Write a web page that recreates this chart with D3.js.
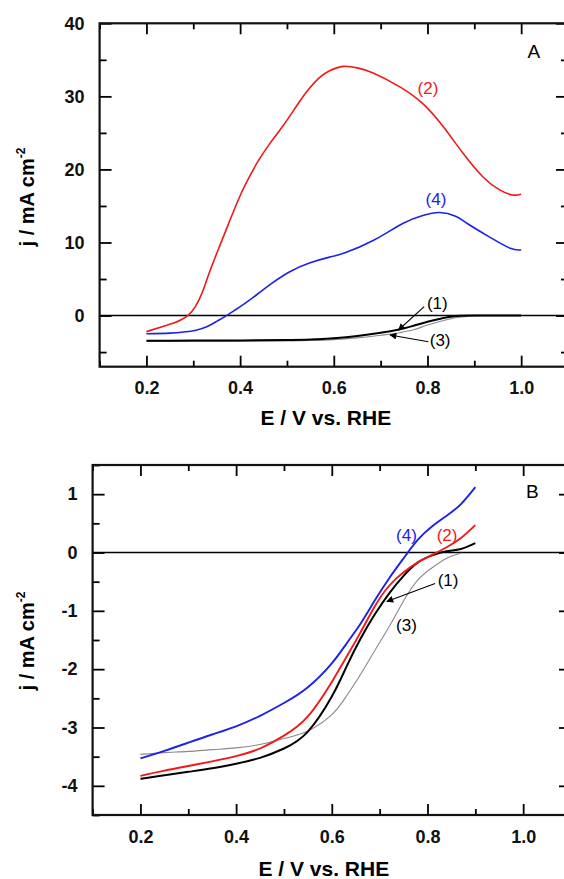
<!DOCTYPE html>
<html>
<head>
<meta charset="utf-8">
<script src="https://cdn.jsdelivr.net/npm/d3@7"></script>
<style>
  body { margin: 0; background: #fff; }
  svg { display: block; font-family: "Liberation Sans", Arial, sans-serif; }
</style>
</head>
<body>
<div id="chart"></div>
<script>
// ---- panel A: CV curves ----
const eA1 = [0.2, 0.3, 0.4, 0.5, 0.55, 0.6, 0.65, 0.7, 0.74, 0.77, 0.8, 0.83, 0.85, 0.87, 0.9, 0.95, 1.0];
const jA1 = [-3.45, -3.42, -3.4, -3.35, -3.28, -3.1, -2.8, -2.35, -1.9, -1.4, -0.85, -0.4, -0.16, -0.03, 0, 0, 0];
const eA2 = [0.2, 0.235, 0.26, 0.275, 0.29, 0.305, 0.32, 0.335, 0.355, 0.378, 0.4, 0.42, 0.44, 0.463, 0.485, 0.506, 0.527, 0.548, 0.57, 0.591, 0.62, 0.65, 0.684, 0.741, 0.79, 0.833, 0.876, 0.918, 0.954, 0.982, 1.0];
const jA2 = [-2.2, -1.5, -1.0, -0.55, 0.1, 1.3, 3.3, 6.0, 9.3, 13.0, 16.4, 19.0, 21.3, 23.5, 25.4, 27.3, 29.3, 31.1, 32.6, 33.5, 34.1, 33.9, 33.2, 31.3, 29.0, 25.9, 22.2, 19.0, 17.2, 16.5, 16.6];
const eA3 = [0.2, 0.3, 0.4, 0.5, 0.55, 0.6, 0.65, 0.7, 0.74, 0.77, 0.8, 0.83, 0.86, 0.89, 0.93, 1.0];
const jA3 = [-3.55, -3.55, -3.52, -3.48, -3.42, -3.3, -3.05, -2.7, -2.35, -1.95, -1.3, -0.75, -0.3, -0.08, 0, 0];
const eA4 = [0.2, 0.25, 0.28, 0.306, 0.33, 0.35, 0.371, 0.395, 0.42, 0.463, 0.506, 0.548, 0.591, 0.624, 0.685, 0.747, 0.79, 0.826, 0.86, 0.885, 0.931, 0.977, 1.0];
const jA4 = [-2.5, -2.4, -2.25, -2.0, -1.5, -0.8, 0.0, 1.0, 2.1, 4.2, 6.0, 7.2, 8.0, 8.6, 10.3, 12.6, 13.7, 14.1, 13.6, 12.6, 10.8, 9.2, 9.0];

// ---- panel B: LSV curves ----
const eB = [0.2, 0.25, 0.3, 0.35, 0.4, 0.45, 0.5, 0.55, 0.6, 0.63, 0.66, 0.69, 0.72, 0.75, 0.78, 0.81, 0.84, 0.87, 0.9];
const jB1 = [-3.88, -3.82, -3.76, -3.7, -3.62, -3.52, -3.36, -3.07, -2.47, -1.97, -1.48, -1.06, -0.7, -0.4, -0.17, -0.05, 0.02, 0.06, 0.16];
const jB2 = [-3.83, -3.74, -3.66, -3.58, -3.49, -3.36, -3.14, -2.81, -2.22, -1.8, -1.37, -0.92, -0.57, -0.34, -0.17, -0.04, 0.09, 0.25, 0.47];
const eB3 = [0.2, 0.25, 0.3, 0.35, 0.4, 0.45, 0.5, 0.55, 0.6, 0.63, 0.66, 0.69, 0.72, 0.75, 0.78, 0.81, 0.84, 0.87];
const jB3 = [-3.46, -3.43, -3.41, -3.38, -3.35, -3.29, -3.19, -3.06, -2.78, -2.47, -2.09, -1.68, -1.27, -0.83, -0.47, -0.26, -0.1, -0.01];
const jB4 = [-3.53, -3.4, -3.26, -3.12, -2.98, -2.8, -2.58, -2.31, -1.9, -1.57, -1.22, -0.82, -0.44, -0.1, 0.22, 0.45, 0.63, 0.83, 1.12];

// axis ticks
const xMajor = [0.2, 0.4, 0.6, 0.8, 1.0];
const xMinor = [0.1, 0.3, 0.5, 0.7, 0.9, 1.1];
const yMajorA = [0, 10, 20, 30, 40];
const yMinorA = [-5, 5, 15, 25, 35];
const yMajorB = [-4, -3, -2, -1, 0, 1];
const yMinorB = [-4.5, -3.5, -2.5, -1.5, -0.5, 0.5, 1.5];

const RED = "#f01818", BLUE = "#1c22e8", GREY = "#8a8a8a";

const svg = d3.select("#chart").append("svg")
  .attr("width", 564)
  .attr("height", 879);

const panels = [
  {
    left: 99.6, right: 568, top: 23.3, bottom: 366.7,
    yDomain: [-7, 40], yMajor: yMajorA, yMinor: yMinorA,
    titleY: 425, yTitleY: 197, letter: "A", letterAt: [1.027, 36.1],
    series: [
      { e: eA3, j: jA3, color: GREY, width: 1.1, flat: true },
      { e: eA1, j: jA1, color: "#000", width: 2, flat: true },
      { e: eA2, j: jA2, color: RED, width: 1.6 },
      { e: eA4, j: jA4, color: BLUE, width: 1.6 },
    ],
    labels: [
      { text: "(2)", at: [0.801, 31.1], color: RED },
      { text: "(4)", at: [0.818, 16], color: BLUE },
      { text: "(1)", at: [0.821, 1.68], color: "#000" },
      { text: "(3)", at: [0.827, -3.35], color: "#000" },
    ],
    arrows: [
      { from: [0.793, 1.21], to: [0.738, -1.98] },
      { from: [0.802, -3.58], to: [0.72, -2.66] },
    ],
  },
  {
    left: 92.6, right: 571, top: 465, bottom: 815,
    yDomain: [-4.5, 1.5], yMajor: yMajorB, yMinor: yMinorB,
    titleY: 876, yTitleY: 641, letter: "B", letterAt: [1.019, 1.04],
    series: [
      { e: eB3, j: jB3, color: GREY, width: 1.1 },
      { e: eB, j: jB1, color: "#000", width: 2 },
      { e: eB, j: jB2, color: RED, width: 1.9 },
      { e: eB, j: jB4, color: BLUE, width: 1.9 },
    ],
    labels: [
      { text: "(4)", at: [0.756, 0.3], color: BLUE },
      { text: "(2)", at: [0.841, 0.3], color: RED },
      { text: "(1)", at: [0.843, -0.47], color: "#000" },
      { text: "(3)", at: [0.756, -1.24], color: "#000" },
    ],
    arrows: [
      { from: [0.816, -0.53], to: [0.715, -0.84] },
    ],
  },
];

svg.append("defs").append("marker")
  .attr("id", "head")
  .attr("viewBox", "0 0 10 10")
  .attr("refX", 9).attr("refY", 5)
  .attr("markerWidth", 9).attr("markerHeight", 7)
  .attr("markerUnits", "userSpaceOnUse")
  .attr("orient", "auto")
  .append("path")
  .attr("d", "M0,0L10,5L0,10Z")
  .attr("fill", "#000");

panels.forEach(drawPanel);

function drawPanel(p) {
  const x = d3.scaleLinear().domain([0.1, 1.1]).range([p.left, p.right]);
  const y = d3.scaleLinear().domain(p.yDomain).range([p.bottom, p.top]);
  const g = svg.append("g");

  // zero line
  g.append("line")
    .attr("x1", x(0.1)).attr("x2", x(1.1))
    .attr("y1", y(0)).attr("y2", y(0))
    .attr("stroke", "#000")
    .attr("stroke-width", 1.4);

  // natural spline for smooth traces, monotone where a trace runs into a plateau
  const line = d3.line()
    .x(d => x(d[0]))
    .y(d => y(d[1]));

  p.series.forEach(s => {
    line.curve(s.flat ? d3.curveMonotoneX : d3.curveNatural);
    g.append("path")
      .datum(d3.zip(s.e, s.j))
      .attr("d", line)
      .attr("fill", "none")
      .attr("stroke", s.color)
      .attr("stroke-width", s.width)
      .attr("stroke-linejoin", "round");
  });

  // ticks on all four sides, pointing inwards; labels only left and bottom
  const sides = [
    { axis: () => d3.axisBottom(x), at: `translate(0,${p.bottom})`, major: xMajor, minor: xMinor, len: [11, 6], fmt: d3.format(".1f") },
    { axis: () => d3.axisTop(x), at: `translate(0,${p.top})`, major: xMajor, minor: xMinor, len: [11, 6] },
    { axis: () => d3.axisLeft(y), at: `translate(${p.left},0)`, major: p.yMajor, minor: p.yMinor, len: [12, 7], fmt: d => String(d) },
    { axis: () => d3.axisRight(y), at: `translate(${p.right},0)`, major: p.yMajor, minor: p.yMinor, len: [12, 7] },
  ];
  sides.forEach(sd => {
    const major = g.append("g")
      .attr("transform", sd.at)
      .call(sd.axis().tickValues(sd.major)
        .tickSizeInner(-sd.len[0]).tickSizeOuter(0)
        .tickPadding(15)
        .tickFormat(sd.fmt || (() => "")));
    major.select(".domain").remove();
    major.selectAll("line").attr("stroke-width", 1.8);
    major.selectAll("text")
      .attr("font-size", 18)
      .attr("font-weight", "bold")
      .attr("font-family", "Liberation Sans, Arial, sans-serif")
      .attr("fill", "#111");

    const minor = g.append("g")
      .attr("transform", sd.at)
      .call(sd.axis().tickValues(sd.minor)
        .tickSizeInner(-sd.len[1]).tickSizeOuter(0)
        .tickFormat(() => ""));
    minor.select(".domain").remove();
    minor.selectAll("line").attr("stroke-width", 1.8);
  });

  // frame
  g.append("rect")
    .attr("x", p.left).attr("y", p.top)
    .attr("width", p.right - p.left).attr("height", p.bottom - p.top)
    .attr("fill", "none")
    .attr("stroke", "#111")
    .attr("stroke-width", 2.2);

  // curve labels
  p.labels.forEach(l => {
    g.append("text")
      .attr("x", x(l.at[0])).attr("y", y(l.at[1]))
      .attr("dy", "0.35em")
      .attr("text-anchor", "middle")
      .attr("font-size", 17)
      .attr("fill", l.color)
      .text(l.text);
  });

  p.arrows.forEach(a => {
    g.append("line")
      .attr("x1", x(a.from[0])).attr("y1", y(a.from[1]))
      .attr("x2", x(a.to[0])).attr("y2", y(a.to[1]))
      .attr("stroke", "#000")
      .attr("stroke-width", 1.1)
      .attr("marker-end", "url(#head)");
  });

  g.append("text")
    .attr("x", x(p.letterAt[0])).attr("y", y(p.letterAt[1]))
    .attr("dy", "0.35em")
    .attr("text-anchor", "middle")
    .attr("font-size", 19)
    .text(p.letter);

  // axis titles
  g.append("text")
    .attr("x", (x(0.1) + x(1.1)) / 2 - 8).attr("y", p.titleY)
    .attr("text-anchor", "middle")
    .attr("font-size", 21)
    .attr("font-weight", "bold")
    .text("E / V vs. RHE");

  const yt = g.append("text")
    .attr("transform", `translate(34,${p.yTitleY}) rotate(-90)`)
    .attr("text-anchor", "middle")
    .attr("font-size", 20)
    .attr("font-weight", "bold");
  yt.append("tspan").text("j / mA cm");
  yt.append("tspan").attr("font-size", 12).attr("dy", -9).text("-2");
}
</script>
</body>
</html>
